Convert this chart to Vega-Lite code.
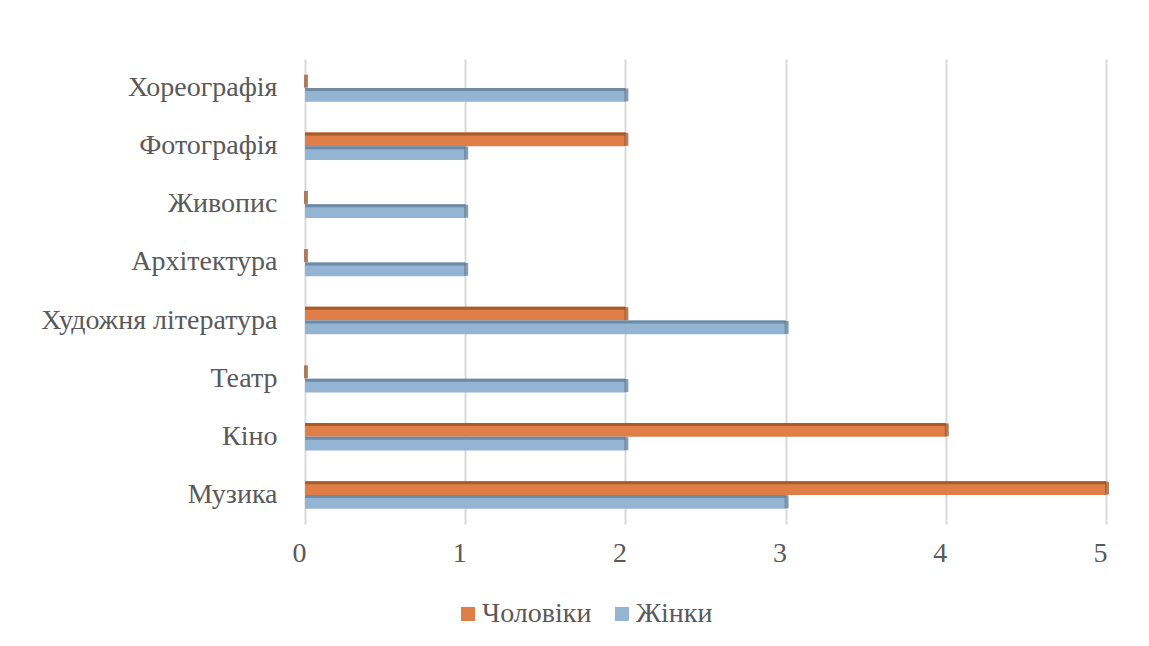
{
  "$schema": "https://vega.github.io/schema/vega-lite/v6.json",
  "width": 801,
  "height": 465,
  "autosize": {"type": "none"},
  "padding": {"left": 305, "top": 59, "right": 43, "bottom": 122},
  "background": "white",
  "config": {"view": {"stroke": null}, "font": "Liberation Serif"},
  "data": {
    "values": [
      {"category": "Хореографія", "series": "Чоловіки", "value": 0},
      {"category": "Хореографія", "series": "Жінки", "value": 2},
      {"category": "Фотографія", "series": "Чоловіки", "value": 2},
      {"category": "Фотографія", "series": "Жінки", "value": 1},
      {"category": "Живопис", "series": "Чоловіки", "value": 0},
      {"category": "Живопис", "series": "Жінки", "value": 1},
      {"category": "Архітектура", "series": "Чоловіки", "value": 0},
      {"category": "Архітектура", "series": "Жінки", "value": 1},
      {"category": "Художня література", "series": "Чоловіки", "value": 2},
      {"category": "Художня література", "series": "Жінки", "value": 3},
      {"category": "Театр", "series": "Чоловіки", "value": 0},
      {"category": "Театр", "series": "Жінки", "value": 2},
      {"category": "Кіно", "series": "Чоловіки", "value": 4},
      {"category": "Кіно", "series": "Жінки", "value": 2},
      {"category": "Музика", "series": "Чоловіки", "value": 5},
      {"category": "Музика", "series": "Жінки", "value": 3}
    ]
  },
  "encoding": {
    "y": {
      "field": "category",
      "type": "nominal",
      "sort": ["Хореографія", "Фотографія", "Живопис", "Архітектура", "Художня література", "Театр", "Кіно", "Музика"],
      "scale": {"paddingInner": 0.527, "paddingOuter": 0.2635},
      "axis": {
        "title": null,
        "domain": false,
        "ticks": false,
        "labelPadding": 28,
        "labelLimit": 500,
        "labelFont": "Liberation Serif",
        "labelFontSize": 28,
        "labelColor": "#595959"
      }
    },
    "x": {
      "field": "value",
      "type": "quantitative",
      "scale": {"domain": [0, 5], "nice": false},
      "axis": {
        "title": null,
        "domain": false,
        "ticks": false,
        "grid": true,
        "gridColor": "#d9d9d9",
        "gridWidth": 2,
        "values": [0, 1, 2, 3, 4, 5],
        "labelOverlap": false,
        "labelFlush": false,
        "labelPadding": 15,
        "labelOffset": -6,
        "labelFont": "Liberation Serif",
        "labelFontSize": 28,
        "labelColor": "#595959"
      }
    }
  },
  "layer": [
    {
      "mark": {"type": "bar"},
      "encoding": {
        "yOffset": {
          "field": "series",
          "type": "nominal",
          "sort": ["Чоловіки", "Жінки"],
          "scale": {"paddingInner": 0, "paddingOuter": 0}
        },
        "color": {
          "field": "series",
          "type": "nominal",
          "scale": {"domain": ["Чоловіки", "Жінки"], "range": ["#df7f47", "#93b4d2"]},
          "legend": {
            "title": null,
            "orient": "none",
            "direction": "horizontal",
            "legendX": 149,
            "legendY": 541,
            "padding": 0,
            "symbolType": "square",
            "symbolSize": 196,
            "symbolStrokeWidth": 0,
            "labelFont": "Liberation Serif",
            "labelFontSize": 28,
            "labelColor": "#595959",
            "labelOffset": 0,
            "columnPadding": 16
          }
        }
      }
    },
    {
      "transform": [{"filter": "datum.series === 'Чоловіки'"}],
      "mark": {"type": "bar", "height": 3, "yOffset": -12.2, "color": "#a95b2b"}
    },
    {
      "transform": [{"filter": "datum.series === 'Жінки'"}],
      "mark": {"type": "bar", "height": 3, "yOffset": 1.5, "color": "#6e8aa5"}
    },
    {
      "mark": {"type": "tick", "thickness": 4, "size": 13, "xOffset": 1},
      "encoding": {
        "yOffset": {
          "field": "series",
          "type": "nominal",
          "sort": ["Чоловіки", "Жінки"],
          "scale": {"paddingInner": 0, "paddingOuter": 0}
        },
        "color": {
          "field": "series",
          "type": "nominal",
          "scale": {"domain": ["Чоловіки", "Жінки"], "range": ["#9a4f22", "#5d7690"]},
          "legend": null
        }
      }
    }
  ],
  "resolve": {"scale": {"color": "independent"}}
}
